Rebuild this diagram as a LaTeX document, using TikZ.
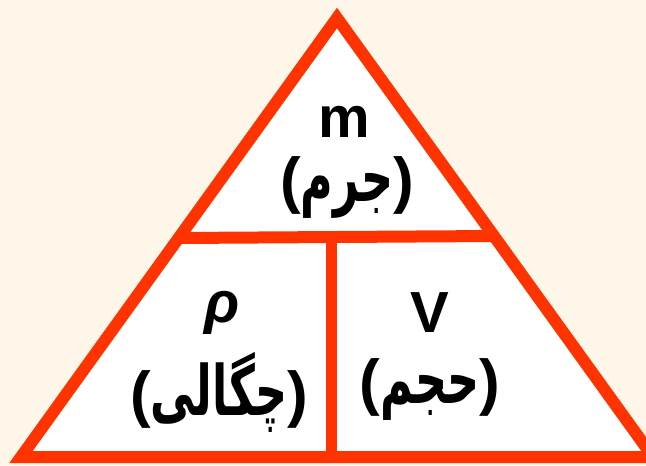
\documentclass[tikz,border=0pt]{standalone}
\usepackage{fontspec}
\setmainfont{Liberation Sans}
\newfontfamily\arabicfont[Script=Arabic,Scale=1.12,FakeStretch=0.64]{DejaVu Sans}
\TeXXeTstate=1
\usepackage{tikz}
\usetikzlibrary{calc, positioning}
\definecolor{edge}{HTML}{FF3300}
\definecolor{paper}{HTML}{FEF7E9}

\begin{document}
\begin{tikzpicture}[x=1pt,y=-1pt,
  side/.style={edge,line width=12pt,line join=miter},
  sym/.style={font=\fontsize{58}{60}\selectfont\bfseries,inner sep=0pt},
  word/.style={font=\fontsize{62}{66}\selectfont\bfseries,inner sep=0pt}]
  \fill[paper] (0,0) rectangle (646,466); %背景
  \useasboundingbox (0,0) rectangle (646,466);
  \clip (0,0) rectangle (646,466);
  \coordinate (apex) at (337,18);
  \coordinate (left) at (21,457);
  \coordinate (right) at (653,457);
  \coordinate (midL) at (179,238);
  \coordinate (midR) at (495,236);
  \coordinate (top) at (331,237);
  \coordinate (bottom) at (331,457);
  \fill[white] (left) --(apex) --(right) --cycle; %三角形
  \draw[side] (left) --(apex) --(right) --cycle;
  \draw[side] (midL) --(midR); %横線
  \draw[side,line width=11pt] (top) --(bottom); %縦線
  \node[sym] (mass) at (344,122) {m};
  \node[word] (massfa) at (347,188) {({\arabicfont\beginR جرم\endR})};
  \node[sym] (rho) at (222,313) {\itshape ρ};
  \node[word] (rhofa) at (219,392) {({\arabicfont\beginR چگالی\endR})};
  \node[sym] (vol) at (430,313) {V};
  \node[word] (volfa) at (430,390) {({\arabicfont\beginR حجم\endR})};
\end{tikzpicture}
\end{document}
